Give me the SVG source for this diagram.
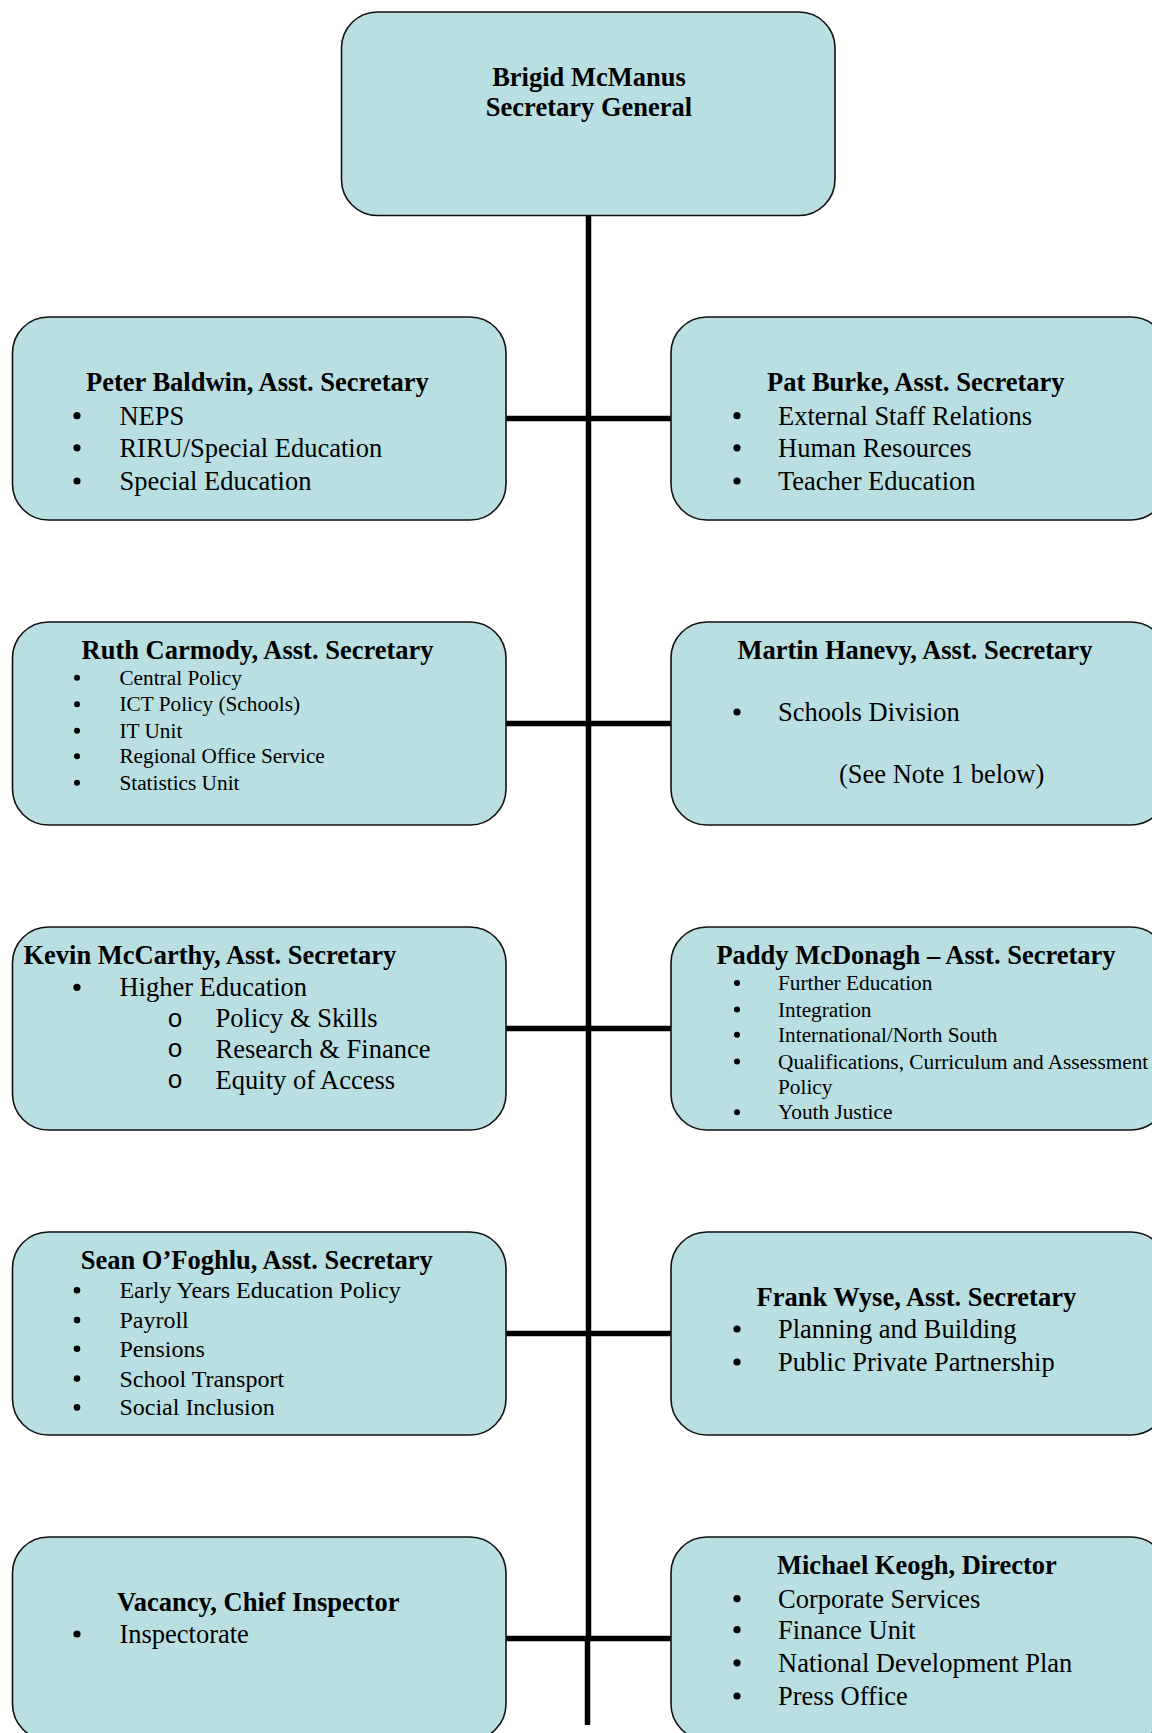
<svg xmlns="http://www.w3.org/2000/svg" width="1152" height="1733" viewBox="0 0 1152 1733">
<style>
.box{fill:#BADFE2;stroke:#111;stroke-width:1.6}
.h{font-family:"Liberation Serif","Times New Roman",serif;font-weight:bold;font-size:26.5px;fill:#000}
.t{font-family:"Liberation Serif","Times New Roman",serif;font-size:26.5px;fill:#000}
.s{font-family:"Liberation Serif","Times New Roman",serif;font-size:21.3px;fill:#000}
.m{font-family:"Liberation Serif","Times New Roman",serif;font-size:24px;fill:#000}
.o{font-family:"Liberation Mono","Courier New",monospace;font-size:26px;fill:#000}
.b{fill:#000}
.c{stroke:#000;stroke-width:5.5;fill:none}
</style>
<rect width="1152" height="1733" fill="#fff"/>
<g id="connectors">
<line class="c" x1="588.5" y1="216" x2="588.5" y2="1640"/>
<line class="c" x1="587.5" y1="1636" x2="587.5" y2="1725"/>
<line class="c" x1="506" y1="418.5" x2="671" y2="418.5"/>
<line class="c" x1="506" y1="723.5" x2="671" y2="723.5"/>
<line class="c" x1="506" y1="1028.5" x2="671" y2="1028.5"/>
<line class="c" x1="506" y1="1333.5" x2="671" y2="1333.5"/>
<line class="c" x1="506" y1="1638.5" x2="671" y2="1638.5"/>
</g>
<g id="secretary-general">
<rect class="box" x="341.5" y="12" width="493.5" height="203.5" rx="36"/>
<text class="h" x="589" y="85.5" text-anchor="middle">Brigid McManus</text>
<text class="h" x="589" y="115.5" text-anchor="middle">Secretary General</text>
</g>
<g id="peter-baldwin">
<rect class="box" x="12.5" y="317" width="493.5" height="203" rx="36"/>
<text class="h" x="86" y="391.4">Peter Baldwin, Asst. Secretary</text>
<circle class="b" cx="77" cy="415.7" r="3.6"/><text class="t" x="119.4" y="424.6">NEPS</text>
<circle class="b" cx="77" cy="447.8" r="3.6"/><text class="t" x="119.4" y="456.7">RIRU/Special Education</text>
<circle class="b" cx="77" cy="481" r="3.6"/><text class="t" x="119.4" y="489.9">Special Education</text>
</g>
<g id="pat-burke">
<rect class="box" x="671" y="317" width="496" height="203" rx="36"/>
<text class="h" x="767" y="391.4">Pat Burke, Asst. Secretary</text>
<circle class="b" cx="737" cy="415.7" r="3.6"/><text class="t" x="778" y="424.6">External Staff Relations</text>
<circle class="b" cx="737" cy="447.8" r="3.6"/><text class="t" x="778" y="456.7">Human Resources</text>
<circle class="b" cx="737" cy="481" r="3.6"/><text class="t" x="778" y="489.9">Teacher Education</text>
</g>
<g id="ruth-carmody">
<rect class="box" x="12.5" y="622" width="493.5" height="203" rx="36"/>
<text class="h" x="81.5" y="658.9">Ruth Carmody, Asst. Secretary</text>
<circle class="b" cx="77" cy="677.7" r="3"/><text class="s" x="119.4" y="684.8">Central Policy</text>
<circle class="b" cx="77" cy="704.3" r="3"/><text class="s" x="119.4" y="711.4">ICT Policy (Schools)</text>
<circle class="b" cx="77" cy="730.8" r="3"/><text class="s" x="119.4" y="737.9">IT Unit</text>
<circle class="b" cx="77" cy="756.2" r="3"/><text class="s" x="119.4" y="763.3">Regional Office Service</text>
<circle class="b" cx="77" cy="782.8" r="3"/><text class="s" x="119.4" y="789.9">Statistics Unit</text>
</g>
<g id="martin-hanevy">
<rect class="box" x="671" y="622" width="496" height="203" rx="36"/>
<text class="h" x="737.4" y="658.9">Martin Hanevy, Asst. Secretary</text>
<circle class="b" cx="737" cy="712" r="3.6"/><text class="t" x="778" y="720.9">Schools Division</text>
<text class="t" x="839" y="782.9">(See Note 1 below)</text>
</g>
<g id="kevin-mccarthy">
<rect class="box" x="12.5" y="927" width="493.5" height="203" rx="36"/>
<text class="h" x="23.5" y="963.9">Kevin McCarthy, Asst. Secretary</text>
<circle class="b" cx="77" cy="987.3" r="3.6"/><text class="t" x="119.4" y="996.2">Higher Education</text>
<text class="o" x="175" y="1026.5" text-anchor="middle">o</text><text class="t" x="215.6" y="1027.2">Policy &amp; Skills</text>
<text class="o" x="175" y="1057.4" text-anchor="middle">o</text><text class="t" x="215.6" y="1058.1">Research &amp; Finance</text>
<text class="o" x="175" y="1088.4" text-anchor="middle">o</text><text class="t" x="215.6" y="1089.1">Equity of Access</text>
</g>
<g id="paddy-mcdonagh">
<rect class="box" x="671" y="927" width="496" height="203" rx="36"/>
<text class="h" x="716.4" y="963.9">Paddy McDonagh – Asst. Secretary</text>
<circle class="b" cx="737" cy="982.9" r="3"/><text class="s" x="778" y="990">Further Education</text>
<circle class="b" cx="737" cy="1009.4" r="3"/><text class="s" x="778" y="1016.5">Integration</text>
<circle class="b" cx="737" cy="1034.8" r="3"/><text class="s" x="778" y="1041.9">International/North South</text>
<circle class="b" cx="737" cy="1061.4" r="3"/><text class="s" x="778" y="1068.5">Qualifications, Curriculum and Assessment</text>
<text class="s" x="778" y="1093.9">Policy</text>
<circle class="b" cx="737" cy="1112.2" r="3"/><text class="s" x="778" y="1119.3">Youth Justice</text>
</g>
<g id="sean-ofoghlu">
<rect class="box" x="12.5" y="1232" width="493.5" height="203" rx="36"/>
<text class="h" x="80.7" y="1269.3">Sean O’Foghlu, Asst. Secretary</text>
<circle class="b" cx="77" cy="1290.2" r="3.3"/><text class="m" x="119.4" y="1298.2">Early Years Education Policy</text>
<circle class="b" cx="77" cy="1320.1" r="3.3"/><text class="m" x="119.4" y="1328.1">Payroll</text>
<circle class="b" cx="77" cy="1348.8" r="3.3"/><text class="m" x="119.4" y="1356.8">Pensions</text>
<circle class="b" cx="77" cy="1378.6" r="3.3"/><text class="m" x="119.4" y="1386.6">School Transport</text>
<circle class="b" cx="77" cy="1407.4" r="3.3"/><text class="m" x="119.4" y="1415.4">Social Inclusion</text>
</g>
<g id="frank-wyse">
<rect class="box" x="671" y="1232" width="496" height="203" rx="36"/>
<text class="h" x="756.5" y="1305.9">Frank Wyse, Asst. Secretary</text>
<circle class="b" cx="737" cy="1329" r="3.6"/><text class="t" x="778" y="1337.9">Planning and Building</text>
<circle class="b" cx="737" cy="1362" r="3.6"/><text class="t" x="778" y="1370.9">Public Private Partnership</text>
</g>
<g id="vacancy-chief-inspector">
<rect class="box" x="12.5" y="1537" width="493.5" height="203" rx="36"/>
<text class="h" x="117" y="1610.9">Vacancy, Chief Inspector</text>
<circle class="b" cx="77" cy="1634" r="3.6"/><text class="t" x="119.4" y="1642.9">Inspectorate</text>
</g>
<g id="michael-keogh">
<rect class="box" x="671" y="1537" width="496" height="203" rx="36"/>
<text class="h" x="777" y="1574.4">Michael Keogh, Director</text>
<circle class="b" cx="737" cy="1598.7" r="3.6"/><text class="t" x="778" y="1607.6">Corporate Services</text>
<circle class="b" cx="737" cy="1629.7" r="3.6"/><text class="t" x="778" y="1638.6">Finance Unit</text>
<circle class="b" cx="737" cy="1662.8" r="3.6"/><text class="t" x="778" y="1671.7">National Development Plan</text>
<circle class="b" cx="737" cy="1696" r="3.6"/><text class="t" x="778" y="1704.9">Press Office</text>
</g>
</svg>
